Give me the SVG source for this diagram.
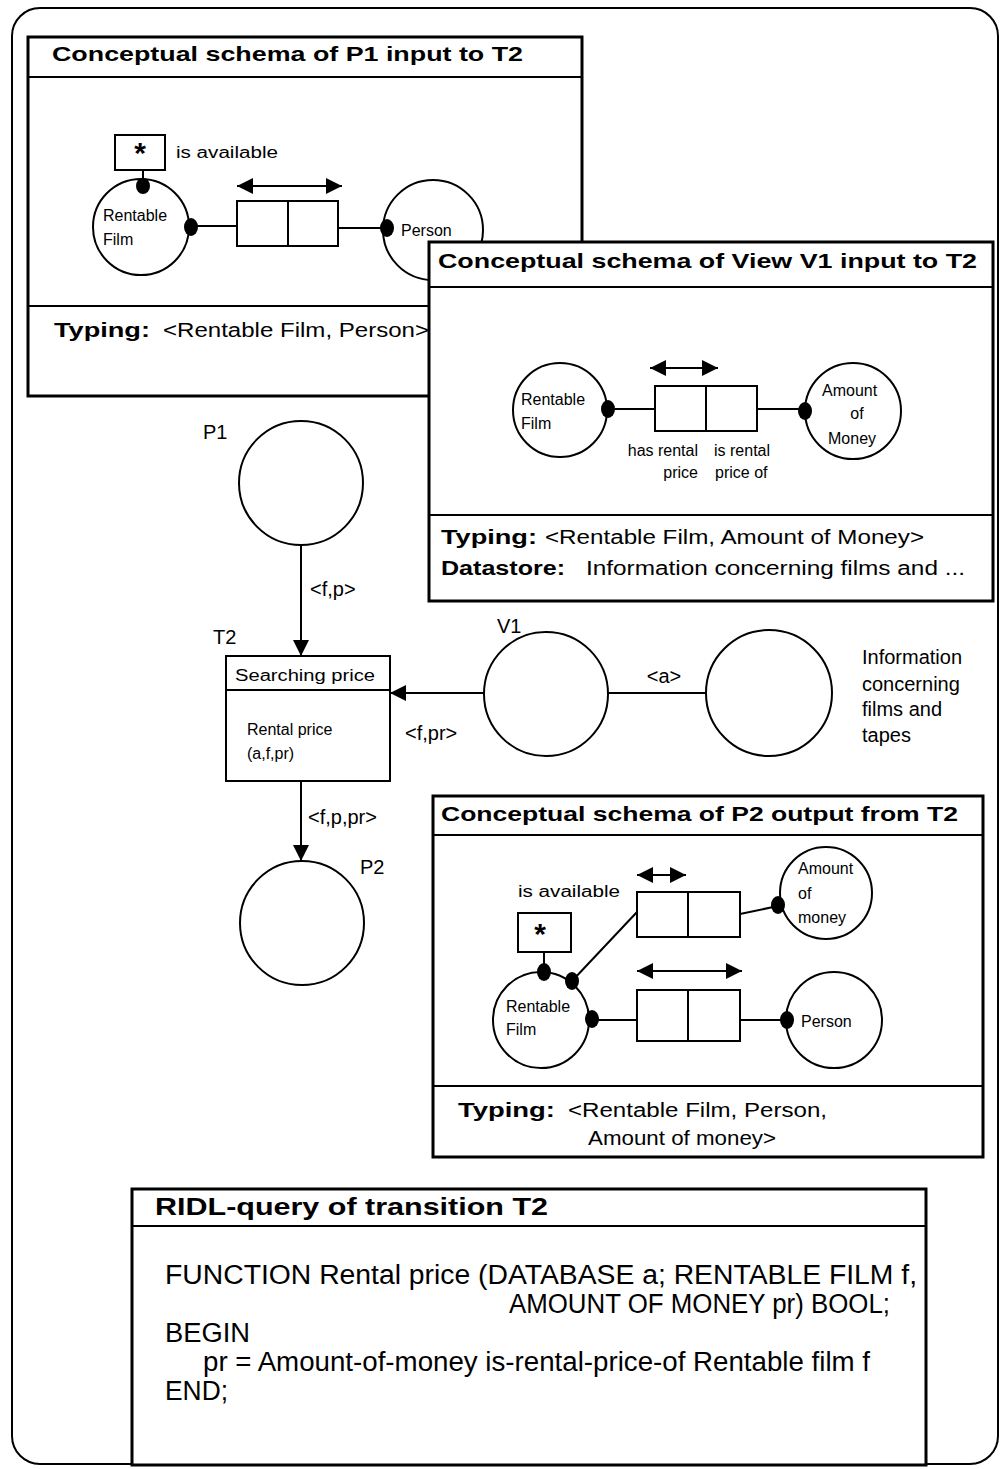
<svg xmlns="http://www.w3.org/2000/svg" width="1003" height="1469" viewBox="0 0 1003 1469">
<style>
.b{fill:none;stroke:#000;stroke-width:2}
.pn{fill:#fff;stroke:#000;stroke-width:3}
.ln{stroke:#000;stroke-width:2;fill:none}
.w{fill:#fff;stroke:#000;stroke-width:2}
.dot{fill:#000}
text{font-family:"Liberation Sans",Arial,sans-serif;fill:#000}
.t{font-weight:bold;font-size:21px}
.s{font-size:16px}
.m{font-size:20px}
.c{font-size:27px}
</style>
<defs>
<marker id="ar" viewBox="0 0 10 10" refX="10" refY="5" markerWidth="18" markerHeight="16" markerUnits="userSpaceOnUse" orient="auto-start-reverse"><path d="M0,0 L10,5 L0,10 z" fill="#000"/></marker>
</defs>
<rect x="12" y="8" width="986" height="1456" rx="28" class="b" stroke-width="2.5"/>

<!-- P1 panel -->
<g id="panel-p1">
<rect x="28" y="37" width="554" height="359" class="pn"/>
<line x1="28" y1="77" x2="582" y2="77" class="ln" stroke-width="3"/>
<line x1="28" y1="306" x2="582" y2="306" class="ln" stroke-width="3"/>
<text x="52" y="61" class="t" textLength="471" lengthAdjust="spacingAndGlyphs">Conceptual schema of P1 input to T2</text>
<rect x="115" y="135" width="50" height="35" class="w"/>
<text x="140" y="163" font-size="30" font-weight="bold" text-anchor="middle">*</text>
<text x="176" y="158" class="s" textLength="102" lengthAdjust="spacingAndGlyphs">is available</text>
<line x1="143" y1="170" x2="143" y2="186" class="ln"/>
<circle cx="141" cy="227" r="48" class="w"/>
<ellipse cx="143" cy="186" rx="7" ry="8" class="dot"/>
<text x="103" y="221" class="s">Rentable</text>
<text x="103" y="245" class="s">Film</text>
<ellipse cx="191" cy="227" rx="7" ry="9" class="dot"/>
<line x1="191" y1="226" x2="237" y2="226" class="ln"/>
<rect x="237" y="201" width="101" height="45" class="w"/>
<line x1="288" y1="201" x2="288" y2="246" class="ln"/>
<line x1="237" y1="186" x2="342" y2="186" class="ln" marker-start="url(#ar)" marker-end="url(#ar)"/>
<line x1="338" y1="228" x2="387" y2="228" class="ln"/>
<circle cx="433" cy="230" r="50" class="w"/>
<ellipse cx="387" cy="228" rx="7" ry="9" class="dot"/>
<text x="401" y="236" class="s">Person</text>
<text x="54" y="337" class="m" font-weight="bold" textLength="96" lengthAdjust="spacingAndGlyphs">Typing:</text>
<text x="163" y="337" class="m" textLength="266" lengthAdjust="spacingAndGlyphs">&lt;Rentable Film, Person&gt;</text>
</g>

<!-- V1 panel -->
<g id="panel-v1">
<rect x="429" y="242" width="564" height="359" class="pn"/>
<line x1="429" y1="287" x2="993" y2="287" class="ln" stroke-width="3"/>
<line x1="429" y1="515" x2="993" y2="515" class="ln" stroke-width="3"/>
<text x="438" y="268" class="t" textLength="539" lengthAdjust="spacingAndGlyphs">Conceptual schema of View V1 input to T2</text>
<circle cx="560" cy="410" r="47" class="w"/>
<text x="521" y="405" class="s">Rentable</text>
<text x="521" y="429" class="s">Film</text>
<ellipse cx="608" cy="409" rx="7" ry="9" class="dot"/>
<line x1="608" y1="409" x2="655" y2="409" class="ln"/>
<rect x="655" y="386" width="102" height="45" class="w"/>
<line x1="706" y1="386" x2="706" y2="431" class="ln"/>
<line x1="650" y1="368" x2="718" y2="368" class="ln" marker-start="url(#ar)" marker-end="url(#ar)"/>
<line x1="757" y1="409" x2="805" y2="409" class="ln"/>
<circle cx="853" cy="411" r="48" class="w"/>
<ellipse cx="805" cy="411" rx="7" ry="9" class="dot"/>
<text x="822" y="396" class="s">Amount</text>
<text x="857" y="419" class="s" text-anchor="middle">of</text>
<text x="828" y="444" class="s">Money</text>
<text x="698" y="456" class="s" text-anchor="end">has rental</text>
<text x="698" y="478" class="s" text-anchor="end">price</text>
<text x="714" y="456" class="s">is rental</text>
<text x="715" y="478" class="s">price of</text>
<text x="441" y="544" class="m" font-weight="bold" textLength="96" lengthAdjust="spacingAndGlyphs">Typing:</text>
<text x="545" y="544" class="m" textLength="379" lengthAdjust="spacingAndGlyphs">&lt;Rentable Film, Amount of Money&gt;</text>
<text x="441" y="575" class="m" font-weight="bold" textLength="124" lengthAdjust="spacingAndGlyphs">Datastore:</text>
<text x="586" y="575" class="m" textLength="379" lengthAdjust="spacingAndGlyphs">Information concerning films and ...</text>
</g>

<!-- Petri net nodes -->
<g id="P1">
<circle cx="301" cy="483" r="62" class="b"/>
<text x="203" y="439" class="m">P1</text>
</g>
<g id="T2">
<rect x="226" y="656" width="164" height="125" class="b"/>
<line x1="226" y1="690" x2="390" y2="690" class="ln"/>
<text x="213" y="644" class="m">T2</text>
<text x="235" y="681" class="s" textLength="140" lengthAdjust="spacingAndGlyphs">Searching price</text>
<text x="247" y="735" class="s">Rental price</text>
<text x="247" y="759" class="s">(a,f,pr)</text>
</g>
<g id="V1">
<circle cx="546" cy="694" r="62" class="b"/>
<text x="497" y="633" class="m">V1</text>
</g>
<g id="datastore">
<circle cx="769" cy="693" r="63" class="b"/>
<text x="862" y="664" class="m" font-size="19">Information</text>
<text x="862" y="691" class="m" font-size="19">concerning</text>
<text x="862" y="716" class="m" font-size="19">films and</text>
<text x="862" y="742" class="m" font-size="19">tapes</text>
</g>
<g id="P2">
<circle cx="302" cy="923" r="62" class="b"/>
<text x="360" y="874" class="m">P2</text>
</g>

<!-- connectors -->
<g id="connectors">
<line x1="301" y1="545" x2="301" y2="656" class="ln" marker-end="url(#ar)"/>
<text x="310" y="596" class="m">&lt;f,p&gt;</text>
<line x1="484" y1="693" x2="390" y2="693" class="ln" marker-end="url(#ar)"/>
<text x="405" y="740" class="m">&lt;f,pr&gt;</text>
<line x1="608" y1="693" x2="706" y2="693" class="ln"/>
<text x="664" y="683" class="m" text-anchor="middle">&lt;a&gt;</text>
<line x1="301" y1="781" x2="301" y2="861" class="ln" marker-end="url(#ar)"/>
<text x="308" y="824" class="m">&lt;f,p,pr&gt;</text>
</g>

<!-- P2 panel -->
<g id="panel-p2">
<rect x="433" y="796" width="550" height="361" class="pn"/>
<line x1="433" y1="835" x2="983" y2="835" class="ln" stroke-width="3"/>
<line x1="433" y1="1086" x2="983" y2="1086" class="ln" stroke-width="3"/>
<text x="441" y="821" class="t" textLength="517" lengthAdjust="spacingAndGlyphs">Conceptual schema of P2 output from T2</text>
<text x="518" y="897" class="s" textLength="102" lengthAdjust="spacingAndGlyphs">is available</text>
<rect x="518" y="913" width="53" height="39" class="w"/>
<text x="540" y="944" font-size="30" font-weight="bold" text-anchor="middle">*</text>
<line x1="544" y1="952" x2="544" y2="972" class="ln"/>
<circle cx="541" cy="1020" r="48" class="w"/>
<ellipse cx="544" cy="972" rx="7" ry="9" class="dot"/>
<line x1="572" y1="981" x2="637" y2="912" class="ln" stroke-width="2.5"/>
<ellipse cx="572" cy="981" rx="7" ry="9" class="dot"/>
<ellipse cx="592" cy="1019" rx="7" ry="9" class="dot"/>
<text x="506" y="1012" class="s">Rentable</text>
<text x="506" y="1035" class="s">Film</text>
<rect x="637" y="892" width="103" height="45" class="w"/>
<line x1="688" y1="892" x2="688" y2="937" class="ln"/>
<line x1="637" y1="875" x2="686" y2="875" class="ln" marker-start="url(#ar)" marker-end="url(#ar)"/>
<line x1="740" y1="914" x2="778" y2="906" class="ln"/>
<circle cx="826" cy="893" r="46" class="w"/>
<ellipse cx="778" cy="905" rx="7" ry="9" class="dot"/>
<text x="798" y="874" class="s">Amount</text>
<text x="798" y="899" class="s">of</text>
<text x="798" y="923" class="s">money</text>
<line x1="592" y1="1020" x2="637" y2="1020" class="ln"/>
<rect x="637" y="990" width="103" height="51" class="w"/>
<line x1="688" y1="990" x2="688" y2="1041" class="ln"/>
<line x1="637" y1="971" x2="742" y2="971" class="ln" marker-start="url(#ar)" marker-end="url(#ar)"/>
<line x1="740" y1="1020" x2="787" y2="1020" class="ln"/>
<circle cx="834" cy="1020" r="48" class="w"/>
<ellipse cx="787" cy="1020" rx="7" ry="9" class="dot"/>
<text x="801" y="1027" class="s">Person</text>
<text x="458" y="1117" class="m" font-weight="bold" textLength="97" lengthAdjust="spacingAndGlyphs">Typing:</text>
<text x="568" y="1117" class="m" textLength="259" lengthAdjust="spacingAndGlyphs">&lt;Rentable Film, Person,</text>
<text x="588" y="1145" class="m" textLength="188" lengthAdjust="spacingAndGlyphs">Amount of money&gt;</text>
</g>

<!-- RIDL panel -->
<g id="panel-ridl">
<rect x="132" y="1189" width="794" height="276" class="pn"/>
<line x1="132" y1="1226" x2="926" y2="1226" class="ln" stroke-width="3"/>
<text x="155" y="1215" font-size="24" font-weight="bold" textLength="393" lengthAdjust="spacingAndGlyphs">RIDL-query of transition T2</text>
<text x="165" y="1284" class="c" textLength="752" lengthAdjust="spacingAndGlyphs">FUNCTION Rental price (DATABASE a; RENTABLE FILM f,</text>
<text x="509" y="1313" class="c" textLength="381" lengthAdjust="spacingAndGlyphs">AMOUNT OF MONEY pr) BOOL;</text>
<text x="165" y="1342" class="c" textLength="85" lengthAdjust="spacingAndGlyphs">BEGIN</text>
<text x="203" y="1371" class="c" textLength="667" lengthAdjust="spacingAndGlyphs">pr = Amount-of-money is-rental-price-of Rentable film f</text>
<text x="165" y="1400" class="c" textLength="63" lengthAdjust="spacingAndGlyphs">END;</text>
</g>
</svg>
